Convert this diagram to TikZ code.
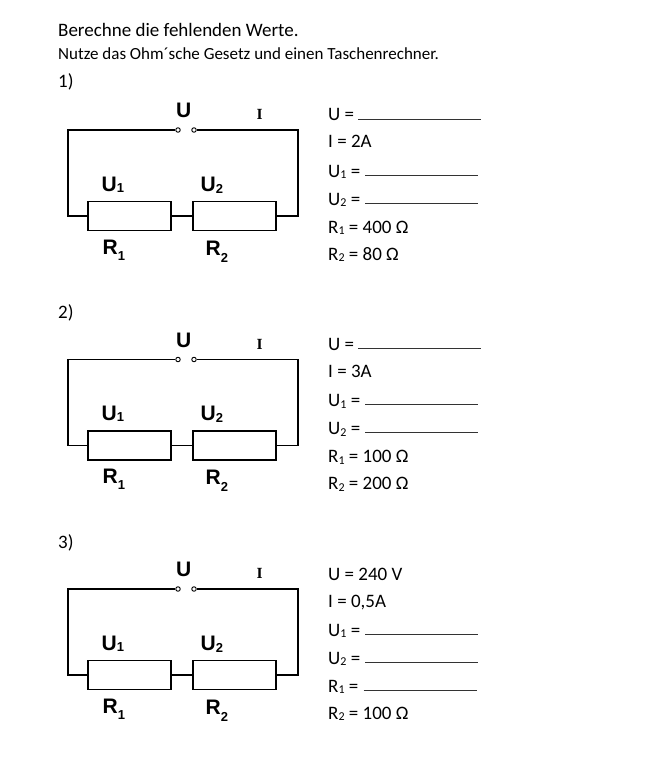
\documentclass[tikz,border=0pt]{standalone}
\usepackage{fontspec}
\setmainfont{Carlito}
\newfontfamily\arialfont{Liberation Sans}
\newfontfamily\timesfont{Liberation Serif}
\usetikzlibrary{calc}
\def\ind#1#2{\raisebox{-#1pt}{\fontsize{13}{13}\selectfont #2}}
\def\tief#1{\raisebox{-0.1em}{\fontsize{12}{12}\selectfont #1}}
\def\schaltung(#1){
\begin{scope}[shift={(0,#1)}]
	\coordinate (ol) at (68,130);
	\coordinate (or) at (298,130);
	\coordinate (ul) at (68,216);
	\coordinate (ur) at (298,216);
	\node[widerstand] (R1) at (129.5,216) {};
	\node[widerstand] (R2) at (234.5,216) {};
	\node[klemme] (k1) at (178,130) {};
	\node[klemme] (k2) at (194,130) {};
	\draw[leitung] (k1.west) -- (ol) -- (ul) -- (R1.west);
	\draw[leitung] (R1.east) -- (R2.west);
	\draw[leitung] (R2.east) -- (ur) -- (or) -- (k2.east);
	
	\node[bez] (lu) at (176,117.5) {U};
	\node[anchor=base west,inner sep=0pt,font=\timesfont\bfseries\fontsize{15.5}{15.5}\selectfont] (li) at (256.5,119.5) {I};
	\node[bez] (lu1) at (101.5,191) {U\ind{1}{1}};
	\node[bez] (lu2) at (200.5,191) {U\ind{2}{2}};
	\node[bez] (lr1) at (102.5,254) {R\ind{6}{1}};
	\node[bez] (lr2) at (205.5,255) {R\ind{7}{2}};
\end{scope}}

\begin{document}
\begin{tikzpicture}[x=1pt,y=-1pt,
	leitung/.style={line width=1.4pt},
	widerstand/.style={draw,line width=1.7pt,minimum width=83pt,minimum height=29pt,inner sep=0pt},
	klemme/.style={draw,circle,line width=0.9pt,minimum size=4.5pt,inner sep=0pt,fill=white},
	bez/.style={anchor=base west,inner sep=0pt,font=\arialfont\bfseries\fontsize{21}{21}\selectfont},
	wert/.style={anchor=base west,inner sep=0pt,font=\fontsize{19}{19}\selectfont},
	luecke/.style={line width=0.8pt,black!80}]
	\useasboundingbox (0,0) rectangle (671,762);
	
	\node[anchor=base west,inner sep=0pt,font=\fontsize{19}{19}\selectfont] (titel) at (58,37) {Berechne die fehlenden Werte.};
	\node[anchor=base west,inner sep=0pt,font=\fontsize{17}{17}\selectfont] (hinweis) at (58,60) {Nutze das Ohm´sche Gesetz und einen Taschenrechner.};
	
	% Aufgabe 1
	\node[wert] (n1) at (58,88) {1)};
	\schaltung(0)
	\node[wert] (a1u) at (328,121) {U =};
	\draw[luecke] ($(a1u.base east)+(4,-2)$) -- ++(123,0);
	\node[wert] (a1i) at (328,148) {I = 2A};
	\node[wert] (a1u1) at (328,177) {U\tief{1} =};
	\draw[luecke] ($(a1u1.base east)+(5,-2)$) -- ++(113,0);
	\node[wert] (a1u2) at (328,205) {U\tief{2} =};
	\draw[luecke] ($(a1u2.base east)+(5,-2)$) -- ++(113,0);
	\node[wert] (a1r1) at (328,233) {R\tief{1} = 400 Ω};
	\node[wert] (a1r2) at (328,260) {R\tief{2} = 80 Ω};
	
	% Aufgabe 2
	\node[wert] (n2) at (58,318) {2)};
	\schaltung(229.5)
	\node[wert] (a2u) at (328,350.5) {U =};
	\draw[luecke] ($(a2u.base east)+(4,-2)$) -- ++(123,0);
	\node[wert] (a2i) at (328,377.5) {I = 3A};
	\node[wert] (a2u1) at (328,406.5) {U\tief{1} =};
	\draw[luecke] ($(a2u1.base east)+(5,-2)$) -- ++(113,0);
	\node[wert] (a2u2) at (328,434.5) {U\tief{2} =};
	\draw[luecke] ($(a2u2.base east)+(5,-2)$) -- ++(113,0);
	\node[wert] (a2r1) at (328,462.5) {R\tief{1} = 100 Ω};
	\node[wert] (a2r2) at (328,489.5) {R\tief{2} = 200 Ω};
	
	% Aufgabe 3
	\node[wert] (n3) at (58,548) {3)};
	\schaltung(459)
	\node[wert] (a3u) at (328,580) {U = 240 V};
	\node[wert] (a3i) at (328,607) {I = 0,5A};
	\node[wert] (a3u1) at (328,636) {U\tief{1} =};
	\draw[luecke] ($(a3u1.base east)+(5,-2)$) -- ++(113,0);
	\node[wert] (a3u2) at (328,664) {U\tief{2} =};
	\draw[luecke] ($(a3u2.base east)+(5,-2)$) -- ++(113,0);
	\node[wert] (a3r1) at (328,692) {R\tief{1} =};
	\draw[luecke] ($(a3r1.base east)+(5,-2)$) -- ++(113,0);
	\node[wert] (a3r2) at (328,719) {R\tief{2} = 100 Ω};
\end{tikzpicture}
\end{document}
